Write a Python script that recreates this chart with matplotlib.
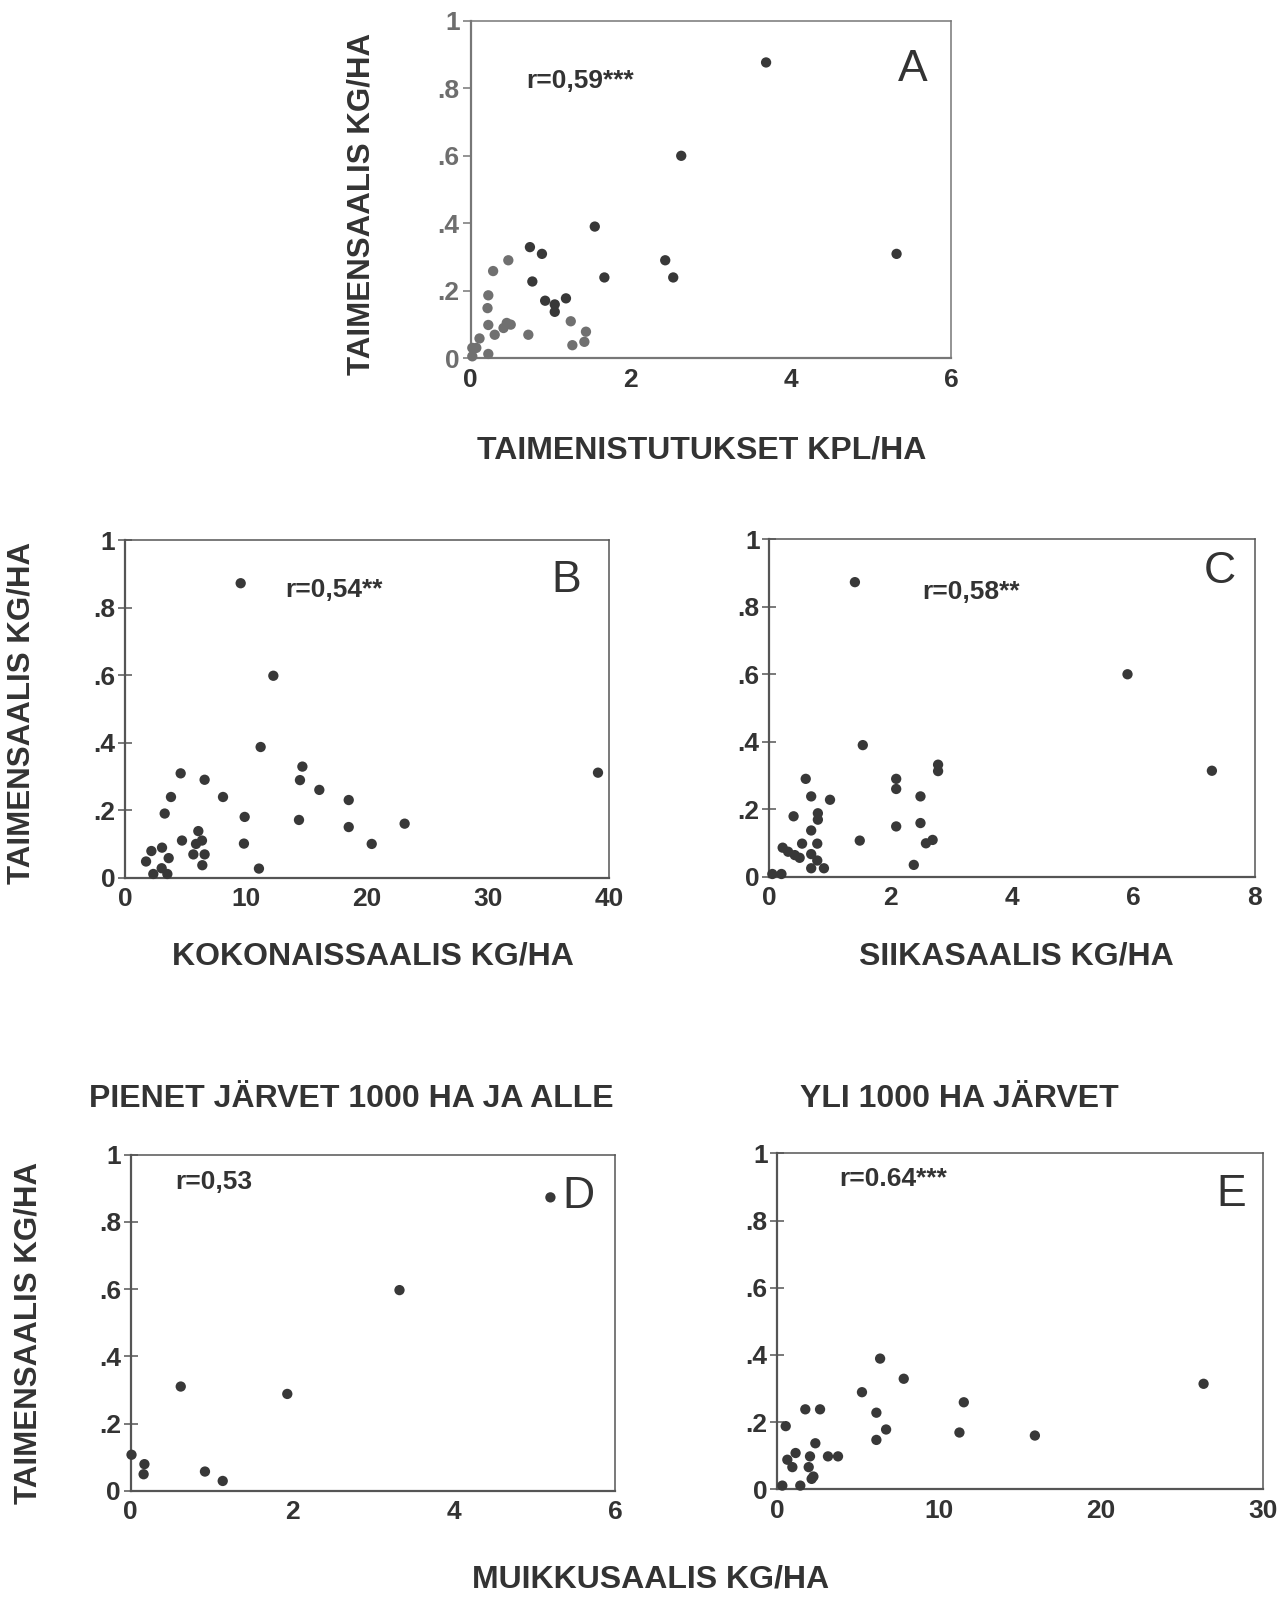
import matplotlib.pyplot as plt

plt.rcParams['font.family'] = ['Liberation Sans', 'DejaVu Sans']

# panel A: taimenistutukset kpl/ha vs taimensaalis kg/ha
a_x_dark = [3.69, 5.32, 2.63, 1.55, 0.74, 0.89, 0.77, 1.67, 2.43, 2.53,
            0.93, 1.05, 1.05, 1.19]
a_y_dark = [0.877, 0.309, 0.600, 0.390, 0.329, 0.309, 0.227, 0.239, 0.290, 0.239,
            0.170, 0.159, 0.137, 0.177]
a_x_light = [1.25, 1.27, 1.42, 1.44, 0.72, 0.47, 0.28, 0.22, 0.21, 0.22,
             0.30, 0.11, 0.41, 0.45, 0.50, 0.02, 0.07, 0.22, 0.02]
a_y_light = [0.109, 0.038, 0.048, 0.078, 0.069, 0.290, 0.258, 0.186, 0.148, 0.098,
             0.069, 0.058, 0.089, 0.104, 0.099, 0.030, 0.030, 0.012, 0.005]

# panel B: kokonaissaalis
b_x = [9.56, 12.26, 11.21, 14.66, 14.46, 16.06, 18.49, 18.49, 20.39, 23.11,
       14.38, 39.09, 4.60, 6.58, 8.10, 3.80, 3.28, 9.89, 9.83, 11.07,
       4.71, 6.06, 5.87, 6.36, 5.65, 6.58, 6.39, 2.18, 3.06, 3.61,
       1.74, 3.03, 2.34, 3.50]
b_y = [0.872, 0.598, 0.387, 0.329, 0.289, 0.260, 0.230, 0.150, 0.100, 0.160,
       0.171, 0.311, 0.309, 0.290, 0.239, 0.239, 0.190, 0.180, 0.101, 0.027,
       0.110, 0.138, 0.100, 0.110, 0.069, 0.069, 0.037, 0.079, 0.089, 0.058,
       0.048, 0.028, 0.011, 0.011]

# panel C: siikasaalis
c_x = [1.41, 1.54, 5.90, 7.29, 2.78, 2.78, 2.09, 2.09, 2.49, 2.49,
       2.09, 2.38, 2.58, 2.69, 1.49, 0.60, 0.69, 1.00, 0.80, 0.80,
       0.40, 0.69, 0.54, 0.79, 0.22, 0.31, 0.42, 0.50, 0.69, 0.79,
       0.69, 0.90, 0.05, 0.20]
c_y = [0.873, 0.390, 0.600, 0.314, 0.332, 0.313, 0.290, 0.260, 0.238, 0.159,
       0.149, 0.035, 0.099, 0.109, 0.107, 0.290, 0.238, 0.228, 0.188, 0.169,
       0.179, 0.137, 0.098, 0.098, 0.086, 0.074, 0.064, 0.056, 0.067, 0.048,
       0.025, 0.025, 0.008, 0.008]

# panel D: muikkusaalis, pienet jarvet
d_x = [5.20, 3.33, 0.62, 1.94, 0.01, 0.17, 0.16, 0.92, 1.14]
d_y = [0.873, 0.597, 0.310, 0.288, 0.107, 0.079, 0.049, 0.057, 0.029]

# panel E: muikkusaalis, yli 1000 ha
e_x = [26.33, 6.35, 7.81, 5.23, 11.52, 6.12, 6.72, 6.12, 11.25, 15.91,
       1.73, 2.64, 0.52, 2.35, 1.13, 2.02, 3.13, 3.75, 0.62, 0.93,
       1.94, 2.12, 2.23, 0.31, 1.42]
e_y = [0.314, 0.389, 0.329, 0.289, 0.259, 0.228, 0.178, 0.147, 0.169, 0.160,
       0.238, 0.238, 0.188, 0.137, 0.108, 0.098, 0.098, 0.098, 0.088, 0.066,
       0.066, 0.031, 0.038, 0.011, 0.011]

y_ticks = [0, 0.2, 0.4, 0.6, 0.8, 1]
y_labels = ['0', '.2', '.4', '.6', '.8', '1']

W, H = 1288, 1597
TXT = '#333333'
DOT = '#383838'

fig = plt.figure(figsize=(W / 100, H / 100), dpi=100)


def make_ax(left, right, top, bottom, xmax, xticks, tickdir, ycol=TXT, spcol='#555555'):
    ax = fig.add_axes([left / W, 1 - bottom / H, (right - left) / W, (bottom - top) / H])
    ax.set_xlim(0, xmax)
    ax.set_ylim(0, 1)
    ax.set_xticks(xticks)
    ax.set_yticks(y_ticks)
    ax.set_yticklabels(y_labels)
    ax.tick_params(axis='x', length=0, pad=7, labelsize=19, labelcolor=TXT)
    ax.tick_params(axis='y', direction=tickdir, length=10 if tickdir == 'inout' else 6,
                   width=1.1, pad=2, labelsize=19, labelcolor=ycol, color=spcol)
    for lab in ax.get_xticklabels() + ax.get_yticklabels():
        lab.set_fontweight('bold')
    for s in ax.spines.values():
        s.set_color(spcol)
        s.set_linewidth(1.1)
    ax.spines['left'].set_linewidth(1.6)
    ax.spines['bottom'].set_linewidth(1.6)
    return ax


def dots(ax, x, y, color=DOT):
    ax.scatter(x, y, s=55, color=color, edgecolors='none', clip_on=False, zorder=3)


def tag(ax, letter, lx, ly, rtext, rx, ry):
    ax.text(lx, ly, letter, transform=ax.transAxes, ha='center', va='center',
            fontsize=32, color=TXT)
    ax.text(rx, ry, rtext, transform=ax.transAxes, ha='left', va='center',
            fontsize=19, fontweight='bold', color=TXT)


# A
axA = make_ax(470.7, 951, 21, 358, 6, [0, 2, 4, 6], 'out', '#6e6e6e', '#777777')
dots(axA, a_x_light, a_y_light, '#707070')
dots(axA, a_x_dark, a_y_dark)
tag(axA, 'A', 0.921, 0.855, 'r=0,59***', 0.115, 0.822)

# B
axB = make_ax(125, 609, 540, 877.7, 40, [0, 10, 20, 30, 40], 'inout')
dots(axB, b_x, b_y)
tag(axB, 'B', 0.911, 0.881, 'r=0,54**', 0.331, 0.852)

# C
axC = make_ax(769.3, 1255, 539.3, 876.7, 8, [0, 2, 4, 6, 8], 'inout')
dots(axC, c_x, c_y)
tag(axC, 'C', 0.928, 0.904, 'r=0,58**', 0.315, 0.845)

# D
axD = make_ax(130.7, 615, 1154.7, 1490.7, 6, [0, 2, 4, 6], 'inout')
dots(axD, d_x, d_y)
tag(axD, 'D', 0.924, 0.875, 'r=0,53', 0.091, 0.918)

# E
axE = make_ax(777.3, 1263, 1153.3, 1489.3, 30, [0, 10, 20, 30], 'inout')
dots(axE, e_x, e_y)
tag(axE, 'E', 0.934, 0.876, 'r=0.64***', 0.127, 0.923)


def ftext(x, y, s, rot=0, size=23):
    fig.text(x / W, 1 - y / H, s, ha='center', va='center', rotation=rot,
             fontsize=size, fontweight='bold', color=TXT)


ftext(702, 450, 'TAIMENISTUTUKSET KPL/HA')
ftext(361, 204, 'TAIMENSAALIS KG/HA', 90, 22.5)
ftext(22, 713, 'TAIMENSAALIS KG/HA', 90, 22.5)
ftext(373, 957, 'KOKONAISSAALIS KG/HA')
ftext(1016, 957, 'SIIKASAALIS KG/HA')
ftext(351, 1099, 'PIENET JÄRVET 1000 HA JA ALLE')
ftext(959, 1099, 'YLI 1000 HA JÄRVET')
ftext(29, 1333, 'TAIMENSAALIS KG/HA', 90, 22.5)
ftext(651, 1580, 'MUIKKUSAALIS KG/HA')

fig.savefig('out.png', dpi=100, facecolor='white')
